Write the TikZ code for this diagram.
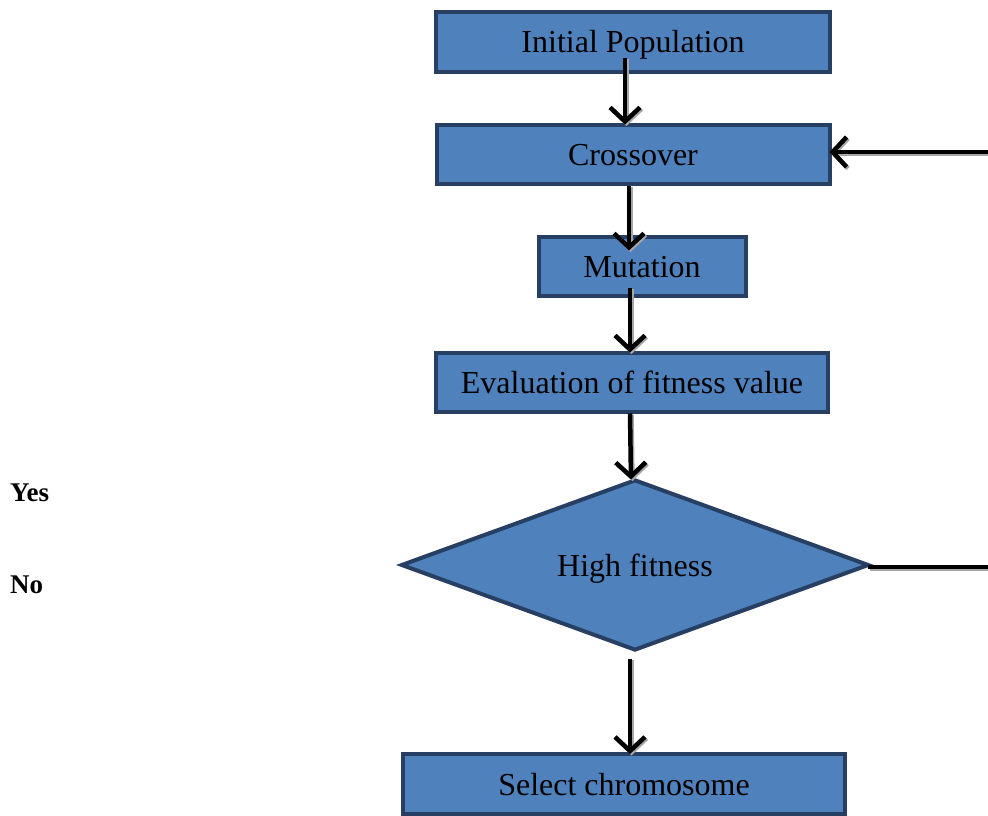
\documentclass[tikz,border=0pt]{standalone}
\usepackage{fontspec}
\setmainfont{Liberation Serif}
\usetikzlibrary{arrows.meta,shapes.geometric}
\definecolor{boxfill}{HTML}{4F81BD}
\definecolor{boxline}{HTML}{263F63}
\begin{document}
\begin{tikzpicture}[x=1pt,y=-1pt,
  procbox/.style={draw=boxline,fill=boxfill,line width=4pt,rectangle,inner sep=0pt,
    font=\fontsize{32}{34}\selectfont,text=black,text height=24pt,text depth=2pt},
  decbox/.style={draw=boxline,fill=boxfill,line width=4pt,diamond,aspect=2.73,inner sep=0pt,
    minimum width=468pt,minimum height=171pt,font=\fontsize{32}{34}\selectfont,
    text height=24pt,text depth=2pt},
  arr/.style={line width=4.5pt,-{Straight Barb[length=14pt,width=30pt,line width=4.5pt]},
    preaction={draw=black!35,line width=4.5pt,transform canvas={shift={(1.5pt,-1.5pt)}}}},
  lin/.style={line width=4.5pt,
    preaction={draw=black!35,line width=4.5pt,transform canvas={shift={(1.5pt,-1.5pt)}}}},
  lab/.style={font=\bfseries\fontsize{27}{29}\selectfont,anchor=west,inner sep=0pt}
]
\useasboundingbox (0,0) rectangle (988,816);
\node[procbox,minimum width=394pt,minimum height=60pt] (init) at (633,42) {Initial Population};
\node[procbox,minimum width=393pt,minimum height=59pt] (cross) at (633,154) {Crossover};
\node[procbox,minimum width=207pt,minimum height=59pt] (mut) at (642,266) {Mutation};
\node[procbox,minimum width=392pt,minimum height=59pt] (eval) at (632,382) {Evaluation of fitness value};
\node[decbox] (hf) at (635,565) {High fitness};
\node[procbox,minimum width=442pt,minimum height=60pt] (sel) at (624,784) {Select chromosome};
\node[lab] (yes) at (10,493) {Yes};
\node[lab] (no) at (10,585) {No};
\coordinate (r1) at (998,567);
\coordinate (r2) at (998,152);
\draw[arr] ([xshift=-8pt,yshift=16pt]init.south) -- ([xshift=-8pt,yshift=-2pt]cross.north);
\draw[arr] ([xshift=-4pt]cross.south) -- ([xshift=-13pt,yshift=-16pt]mut.north);
\draw[arr] ([xshift=-12pt,yshift=10pt]mut.south) -- ([xshift=-2pt,yshift=-2pt]eval.north);
\draw[arr] ([xshift=-2pt]eval.south) -- ([xshift=-4pt,yshift=-2pt]hf.north);
\draw[arr] ([xshift=-5pt,yshift=-6pt]hf.south) -- ([xshift=6pt,yshift=-2pt]sel.north);
\draw[lin] ([xshift=-3pt,yshift=-2pt]hf.east) -- (r1) -- (r2);
\draw[arr] (r2) -- ([xshift=-2pt,yshift=2pt]cross.east);
\end{tikzpicture}
\end{document}
